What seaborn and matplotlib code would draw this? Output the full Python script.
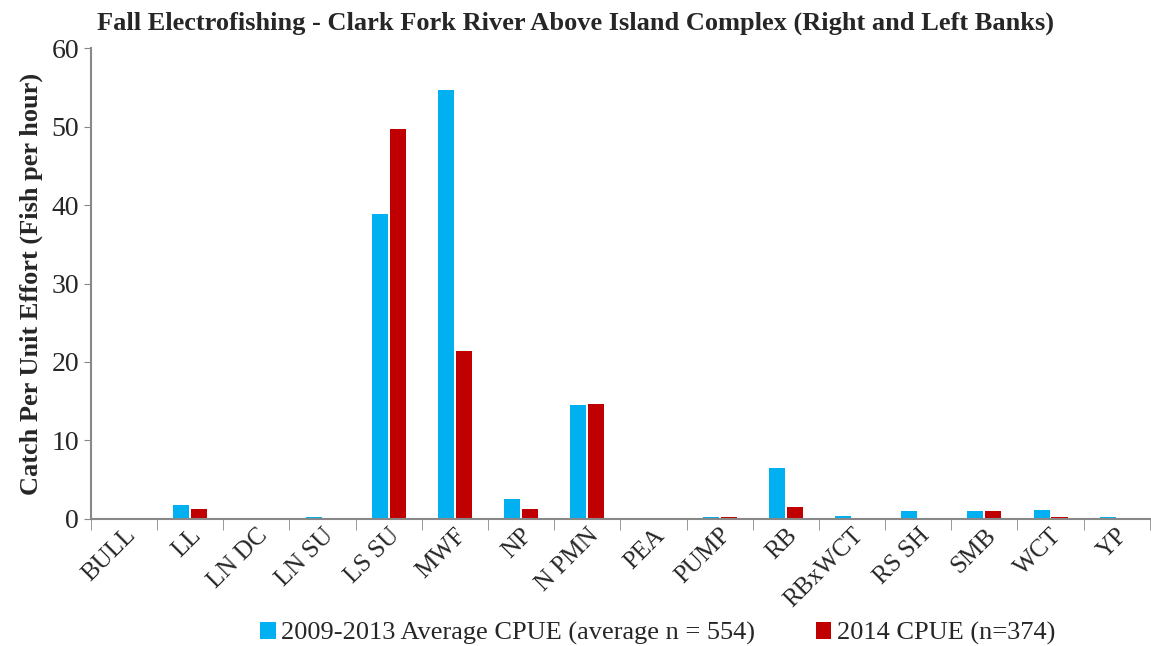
import numpy as np
import pandas as pd
import matplotlib.pyplot as plt
import seaborn as sns

species = ['BULL', 'LL', 'LN DC', 'LN SU', 'LS SU', 'MWF', 'NP', 'N PMN', 'PEA',
           'PUMP', 'RB', 'RBxWCT', 'RS SH', 'SMB', 'WCT', 'YP']
avg_0913 = [0.0, 1.8, 0.05, 0.25, 38.9, 54.7, 2.5, 14.5, 0.0, 0.2, 6.5, 0.35, 1.0, 1.0, 1.15, 0.25]
cpue_2014 = [0.0, 1.2, 0.0, 0.0, 49.7, 21.4, 1.2, 14.7, 0.0, 0.2, 1.45, 0.0, 0.0, 1.0, 0.25, 0.0]
series = ['2009-2013 Average CPUE (average n = 554)', '2014 CPUE (n=374)']
colors = ['#00B0F0', '#C00000']

df = pd.DataFrame({
    'Species': species * 2,
    'CPUE': avg_0913 + cpue_2014,
    'Series': [series[0]] * len(species) + [series[1]] * len(species),
})

sns.set_style('white')
plt.rcParams['font.family'] = ['Liberation Serif', 'DejaVu Serif']

fig = plt.figure(figsize=(11.51, 6.46), dpi=100)
ax = fig.add_axes([0.079, 0.197, 0.92, 0.728])

sns.barplot(data=df, x='Species', y='CPUE', hue='Series', palette=colors,
            order=species, hue_order=series, width=0.54, gap=0.1,
            saturation=1, linewidth=0, ax=ax)

ax.set_ylim(0, 60)
ax.set_yticks(range(0, 61, 10))
ax.set_xlim(-0.5, len(species) - 0.5)
ax.tick_params(axis='y', labelsize=20, length=5, color='#888888', direction='out', left=True)
ax.tick_params(axis='x', which='major', labelsize=18, length=0, pad=4)
ax.set_xticks(np.arange(-0.5, len(species), 1), minor=True)
ax.tick_params(axis='x', which='minor', length=8, color='#888888', direction='out', bottom=True)
plt.setp(ax.get_xticklabels(), rotation=45, ha='right', rotation_mode='anchor')

for s in ['top', 'right']:
    ax.spines[s].set_visible(False)
for s in ['left', 'bottom']:
    ax.spines[s].set_color('#888888')
    ax.spines[s].set_linewidth(1.5)

ax.set_xlabel('')
ax.set_ylabel('Catch Per Unit Effort (Fish per hour)', fontsize=19, fontweight='bold', labelpad=6)
fig.suptitle('Fall Electrofishing - Clark Fork River Above Island Complex (Right and Left Banks)',
             fontsize=19, fontweight='bold', x=0.5, y=0.982)

ax.legend(loc='lower center', bbox_to_anchor=(0.535, -0.32), ncol=2, frameon=False,
          fontsize=19, handlelength=0.6, handleheight=0.6, handletextpad=0.2, columnspacing=2.3)

fig.savefig('out.png', dpi=100)
